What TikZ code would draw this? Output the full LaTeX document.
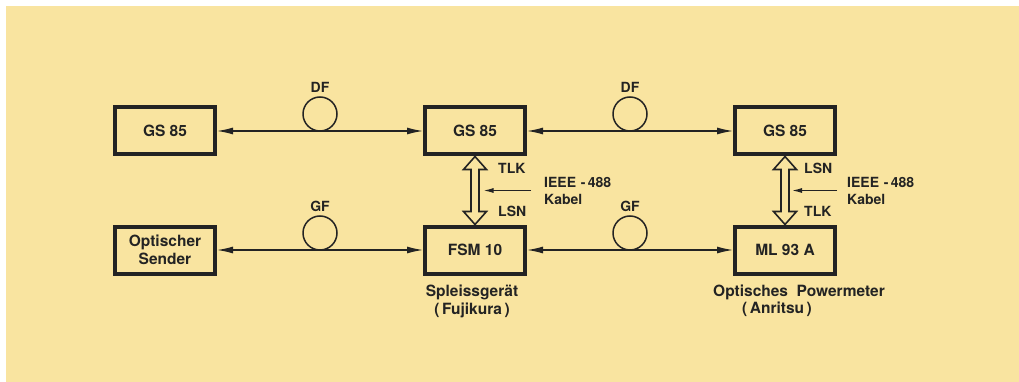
\documentclass[tikz,border=0pt]{standalone}
\usepackage{fontspec}
\setmainfont{TeX Gyre Heros}
\usetikzlibrary{arrows.meta, positioning, calc}
\definecolor{paper}{RGB}{249,228,160}
\definecolor{ink}{RGB}{35,35,35}

\begin{document}
\begin{tikzpicture}[
    x=1pt, y=-1pt,
    node distance=68pt and 206pt,
    dev/.style={draw=ink, line width=4pt, minimum width=100pt, minimum height=47pt, inner sep=2pt, align=center, font=\fontsize{15.5}{18}\selectfont\bfseries, text=ink},
    coil/.style={circle, draw=ink, line width=1.5pt, minimum size=34pt, inner sep=0pt, outer sep=0pt, anchor=south},
    link/.style={{Latex[length=16pt,width=7pt]}-{Latex[length=16pt,width=7pt]}, ink, line width=1.3pt},
    bus/.style={draw=ink, line width=1.6pt, line join=miter},
    hint/.style={-{Latex[length=10pt,width=5pt]}, ink, line width=1.2pt},
    lbl/.style={font=\fontsize{14}{17}\selectfont\bfseries, text=ink, inner sep=1pt},
    desc/.style={font=\fontsize{15.5}{18}\selectfont\bfseries, text=ink, align=center, inner sep=1pt},
]

% paper
\useasboundingbox (0,0) rectangle (1019,382);
\fill[paper] (6,6) rectangle (1019,382);

% ===== devices =====
\node[dev] (gs1) at (165,131) {GS 85};
\node[dev, right=of gs1] (gs2) {GS 85};
\node[dev, right=of gs2] (gs3) {GS 85};
\node[dev, below=of gs1] (sender) {Optischer\\Sender};
\node[dev, below=of gs2] (fsm) {FSM 10};
\node[dev, below=of gs3] (ml) {ML 93 A};

% ===== fibre links with coils =====
\draw[link] (gs1) -- (gs2) node[coil, midway] (df1) {};
\draw[link] (gs2) -- (gs3) node[coil, midway] (df2) {};
\draw[link] (sender) -- (fsm) node[coil, midway] (gf1) {};
\draw[link] (fsm) -- (ml) node[coil, midway] (gf2) {};

\node[lbl, above=3pt of df1] (dflbl1) {DF};
\node[lbl, above=3pt of df2] (dflbl2) {DF};
\node[lbl, above=3pt of gf1] (gflbl1) {GF};
\node[lbl, above=3pt of gf2] (gflbl2) {GF};

% ===== IEEE-488 buses =====
\draw[bus] (gs2.south) -- ++(11.5,13) -- ++(-7.5,0) -- ($(fsm.north)+(4,-13)$)
  -- ++(7.5,0) -- (fsm.north) -- ++(-11.5,-13) -- ++(7.5,0)
  -- ($(gs2.south)+(-4,13)$) -- ++(-7.5,0) -- cycle;
\draw[bus] (gs3.south) -- ++(11.5,13) -- ++(-7.5,0) -- ($(ml.north)+(4,-13)$)
  -- ++(7.5,0) -- (ml.north) -- ++(-11.5,-13) -- ++(7.5,0)
  -- ($(gs3.south)+(-4,13)$) -- ++(-7.5,0) -- cycle;

\node[lbl, anchor=west] (tlk1) at ($(gs2.south)+(22,12)$) {TLK};
\node[lbl, anchor=west] (lsn1) at ($(fsm.north)+(22,-13)$) {LSN};
\node[lbl, anchor=west] (lsn2) at ($(gs3.south)+(18,12)$) {LSN};
\node[lbl, anchor=west] (tlk2) at ($(ml.north)+(18,-13)$) {TLK};

\node[lbl, align=left, anchor=west] (ieee1) at ($(gs2.south)!0.5!(fsm.north)+(68,0)$) {IEEE\,\,-\,488\\Kabel};
\node[lbl, align=left, anchor=west] (ieee2) at ($(gs3.south)!0.5!(ml.north)+(61,0)$) {IEEE\,\,-\,488\\Kabel};
\coordinate (hint1) at ($(gs2.south)!0.5!(fsm.north)+(8.5,0)$);
\coordinate (hint2) at ($(gs3.south)!0.5!(ml.north)+(7,0)$);
\draw[hint, shorten <=12pt] (ieee1.west) -- (hint1);
\draw[hint, shorten <=9pt] (ieee2.west) -- (hint2);

% ===== descriptions =====
\node[desc, below=8pt of fsm, xshift=-3pt] (splice) {Spleissgerät\\(\,Fujikura\,)};
\node[desc, below=8pt of ml, xshift=14pt] (pm) {Optisches\ \ Powermeter};
\node[desc, below=0pt of pm, xshift=-22pt] (maker) {(\,Anritsu\,)};

\end{tikzpicture}
\end{document}
